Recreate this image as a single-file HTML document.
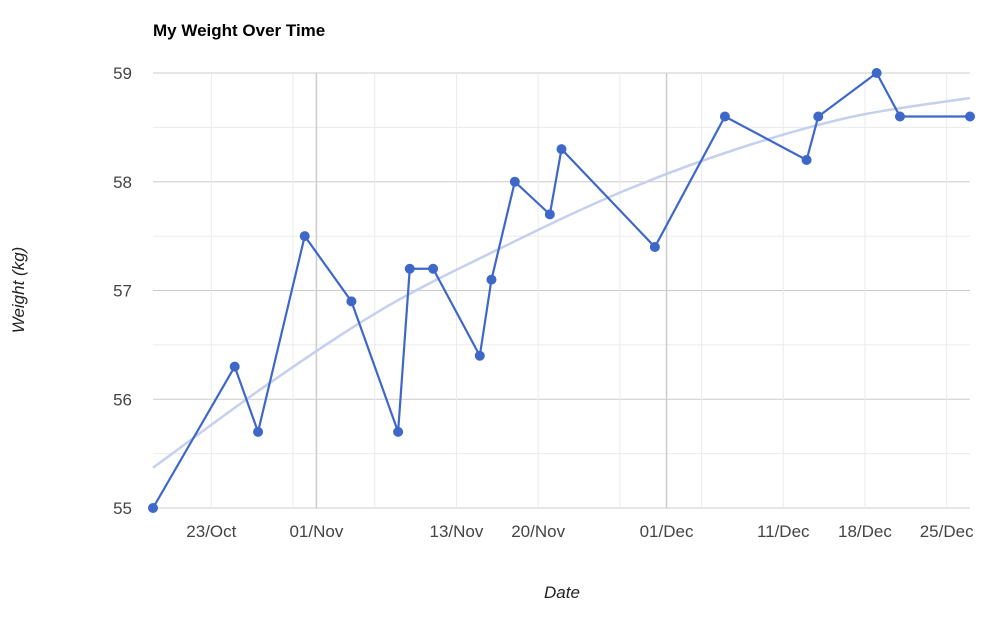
<!DOCTYPE html>
<html><head><meta charset="utf-8"><style>
body{margin:0;background:#fff;font-family:"Liberation Sans",Arial,sans-serif}
</style></head><body>
<svg id="chart" width="1000" height="623" xmlns="http://www.w3.org/2000/svg">
<text x="153" y="36" font-size="17" font-weight="bold" fill="#000">My Weight Over Time</text>
<g id="grid"></g><g id="axes"></g><g id="series"></g>
<text transform="translate(24,290) rotate(-90)" text-anchor="middle" font-size="17" font-style="italic" fill="#222">Weight (kg)</text>
<text x="562" y="598" text-anchor="middle" font-size="17" font-style="italic" fill="#222">Date</text>
</svg>
<script>
// data: day offsets from 18/Oct
const days=[0,7,9,13,17,21,22,24,28,29,31,34,35,43,49,56,57,62,64,70];
const weights=[55.0,56.3,55.7,57.5,56.9,55.7,57.2,57.2,56.4,57.1,58.0,57.7,58.3,57.4,58.6,58.2,58.6,59.0,58.6,58.6];
const trendDays=[0,10,20,30,40,50,60,70];
const trendValues=[55.37,56.15,56.85,57.4,57.9,58.3,58.6,58.77];
const xTickDays=[5,14,26,33,44,54,61,68];
const xTickLabels=["23/Oct","01/Nov","13/Nov","20/Nov","01/Dec","11/Dec","18/Dec","25/Dec"];
const yTicks=[55,56,57,58,59];
const NS="http://www.w3.org/2000/svg";
const X0=153,X1=970,PXD=(X1-X0)/70;
const x=d=>X0+d*PXD, y=v=>508-(v-55)*108.75;
function mk(tag,attrs,parent){const e=document.createElementNS(NS,tag);for(const k in attrs)e.setAttribute(k,attrs[k]);parent.appendChild(e);return e;}
const grid=document.getElementById('grid'),axes=document.getElementById('axes'),series=document.getElementById('series');
for(let v=55;v<=59;v+=0.5){
  const l=mk('line',{x1:X0,x2:X1,y1:y(v),y2:y(v),stroke:Number.isInteger(v)?'#ccc':'#ebebeb','stroke-width':1},grid);
  
  
}
for(let d=5;d<=70;d+=7){
  const l=mk('line',{x1:x(d),x2:x(d),y1:y(59),y2:y(55),stroke:'#ebebeb','stroke-width':1},grid);
  
  
}
[14,44].forEach(d=>{
  const l=mk('line',{x1:x(d),x2:x(d),y1:y(59),y2:y(55),stroke:'#ccc','stroke-width':1.5},grid);
  
  
});
yTicks.forEach(v=>{
  const t=mk('text',{x:132,y:y(v)+6,'text-anchor':'end','font-size':17,fill:'#444'},axes);t.textContent=v;
  
  
});
xTickDays.forEach((d,i)=>{
  const t=mk('text',{x:x(d),y:537,'text-anchor':'middle','font-size':17,fill:'#444'},axes);t.textContent=xTickLabels[i];
  
  
});
const tp=trendDays.map((d,i)=>[x(d),y(trendValues[i])]);
let dstr='M'+tp[0][0]+','+tp[0][1];
for(let i=0;i<tp.length-1;i++){
  const p0=tp[Math.max(0,i-1)],p1=tp[i],p2=tp[i+1],p3=tp[Math.min(tp.length-1,i+2)];
  dstr+=` C${p1[0]+(p2[0]-p0[0])/6},${p1[1]+(p2[1]-p0[1])/6} ${p2[0]-(p3[0]-p1[0])/6},${p2[1]-(p3[1]-p1[1])/6} ${p2[0]},${p2[1]}`;
}
const tr=mk('path',{d:dstr,fill:'none',stroke:'#c5d0ee','stroke-width':2.5},series);


const ln=mk('polyline',{points:days.map((d,i)=>x(d)+','+y(weights[i])).join(' '),fill:'none',stroke:'#3d67c9','stroke-width':2.2},series);


days.forEach((d,i)=>{
  const c=mk('circle',{cx:x(d),cy:y(weights[i]),r:5,fill:'#3d67c9'},series);
  
  
});
</script>
</body></html>
